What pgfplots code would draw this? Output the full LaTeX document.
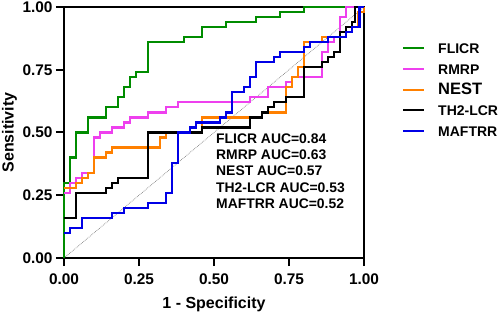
\documentclass[border=0pt]{standalone}
\usepackage{fontspec}
\setmainfont{Liberation Sans}
\usepackage{pgfplots}
\pgfplotsset{compat=1.18}
\definecolor{cgreen}{RGB}{0,140,0}
\definecolor{cmag}{RGB}{238,64,238}
\definecolor{corange}{RGB}{255,128,0}
\definecolor{cblue}{RGB}{0,0,230}
\newcommand{\lstrut}{\rule[-2pt]{0pt}{14pt}}
\begin{document}
\begin{tikzpicture}
\begin{axis}[
  at={(0pt,0pt)}, anchor=south west,
  width=300pt, height=251pt, scale only axis,
  xmin=0, xmax=1, ymin=0, ymax=1,
  clip=false,
  axis line style={line width=2pt},
  tick pos=left, tick align=outside,
  major tick length=8pt,
  tick style={black, line width=2pt},
  xtick={0,0.25,0.5,0.75,1}, xticklabels={0.00,0.25,0.50,0.75,1.00},
  ytick={0,0.25,0.5,0.75,1}, yticklabels={0.00,0.25,0.50,0.75,1.00},
  tick label style={font=\bfseries\fontsize{15.4}{16}\selectfont, inner sep=0pt},
  xticklabel style={yshift=-8pt},
  yticklabel style={xshift=-3.3pt},
  xlabel={1 - Specificity}, ylabel={Sensitivity},
  label style={font=\bfseries\fontsize{16}{16}\selectfont, inner sep=0pt},
  xlabel style={at={(axis description cs:0.5,-0.1992)}, anchor=base},
  ylabel style={at={(axis description cs:-0.1683,0.5)}, anchor=base},
  legend style={at={(axis description cs:1.1267,0.8633)}, anchor=north west,
    draw=none, fill=none, inner sep=0pt, row sep=7.2pt, column sep=13pt,
    nodes={inner sep=0pt},
    font=\bfseries\fontsize{14}{14}\selectfont},
  legend cell align=left,
  legend image code/.code={\draw[#1, line width=2pt] (0pt,0pt) -- (21pt,0pt);},
]
\addplot[gray, densely dotted, line width=0.7pt, forget plot] coordinates {(0,0) (1,1)};
\addplot[cgreen, line width=2.2pt, const plot] coordinates {
(0,0) (0,0.30) (0.02,0.40) (0.04,0.50) (0.08,0.56) (0.14,0.60) (0.18,0.64) (0.20,0.68)
(0.22,0.72) (0.24,0.74) (0.28,0.86) (0.40,0.88) (0.46,0.92) (0.54,0.94) (0.64,0.96)
(0.72,0.98) (0.80,1.00) (1,1)};
\addlegendentry{\lstrut FLICR}
\addplot[cmag, line width=2.2pt, const plot] coordinates {
(0,0.26) (0.02,0.30) (0.04,0.32) (0.06,0.34) (0.10,0.48) (0.12,0.50) (0.16,0.52) (0.20,0.54)
(0.22,0.56) (0.28,0.58) (0.34,0.60) (0.38,0.62) (0.62,0.64) (0.68,0.68) (0.74,0.70)
(0.76,0.72) (0.86,0.82) (0.88,0.86) (0.90,0.88) (0.92,0.96) (0.94,1.00) (1,1)};
\addlegendentry{\lstrut RMRP}
\addplot[corange, line width=2.2pt, const plot] coordinates {
(0,0.28) (0.04,0.30) (0.06,0.32) (0.08,0.34) (0.10,0.40) (0.14,0.42) (0.16,0.44) (0.32,0.48)
(0.34,0.50) (0.46,0.56) (0.66,0.58) (0.74,0.68) (0.76,0.72) (0.78,0.76) (0.80,0.86)
(0.86,0.88) (0.92,0.90) (0.96,0.92) (0.98,0.98) (1,1)};
\addlegendentry{\lstrut\fontsize{16.5}{16.5}\selectfont NEST}
\addplot[black, line width=2.2pt, const plot] coordinates {
(0,0.16) (0.04,0.26) (0.14,0.28) (0.16,0.30) (0.18,0.32) (0.28,0.50) (0.46,0.52) (0.62,0.56)
(0.66,0.58) (0.68,0.60) (0.70,0.62) (0.74,0.64) (0.80,0.76) (0.86,0.78) (0.88,0.80)
(0.90,0.82) (0.92,0.90) (0.94,0.92) (0.96,0.94) (0.97,1.00) (1,1)};
\addlegendentry{\lstrut TH2-LCR}
\addplot[cblue, line width=2.2pt, const plot] coordinates {
(0,0.10) (0.02,0.12) (0.06,0.16) (0.16,0.18) (0.20,0.20) (0.28,0.22) (0.34,0.26) (0.36,0.38)
(0.38,0.50) (0.42,0.52) (0.44,0.54) (0.52,0.56) (0.54,0.58) (0.56,0.66) (0.60,0.68)
(0.62,0.72) (0.64,0.78) (0.70,0.80) (0.72,0.82) (0.80,0.84) (0.82,0.86) (0.88,0.88)
(0.94,0.90) (0.96,0.92) (0.985,1.00) (1,1)};
\addlegendentry{\lstrut MAFTRR}
\begin{scope}[every node/.style={anchor=base west, inner sep=0pt, font=\bfseries\fontsize{13.9}{14}\selectfont}]
\node at (axis cs:0.5067,0.4566) {FLICR AUC=0.84};
\node at (axis cs:0.5067,0.3916) {RMRP AUC=0.63};
\node at (axis cs:0.5067,0.3267) {NEST AUC=0.57};
\node at (axis cs:0.5067,0.2618) {TH2-LCR AUC=0.53};
\node at (axis cs:0.5067,0.1968) {MAFTRR AUC=0.52};
\end{scope}
\end{axis}
\pgfresetboundingbox
\path[use as bounding box] (-64pt,-55pt) rectangle (434pt,258pt);
\end{tikzpicture}
\end{document}
